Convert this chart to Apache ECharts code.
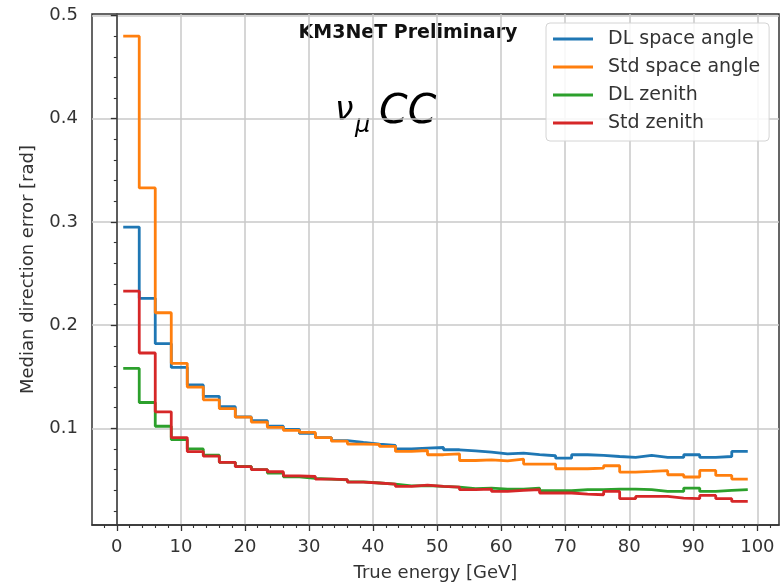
<!DOCTYPE html>
<html>
<head>
<meta charset="utf-8">
<title>Median direction error</title>
<script src="https://cdn.jsdelivr.net/npm/echarts@6/dist/echarts.min.js"></script>
<style>
  html, body { margin: 0; padding: 0; background: #fff; }
  #chart { width: 782px; height: 583px; }
</style>
</head>
<body>
<div id="chart"></div>
<script>
// bin edges of the energy histogram [GeV]
const binEdges = [1, 3.5, 6, 8.5, 11, 13.5, 16, 18.5, 21, 23.5, 26, 28.5, 31, 33.5, 36, 38.5,
  41, 43.5, 46, 48.5, 51, 53.5, 56, 58.5, 61, 63.5, 66, 68.5, 71, 73.5, 76, 78.5,
  81, 83.5, 86, 88.5, 91, 93.5, 96, 98.5]

// median direction error per bin [rad]
const dlSpace = [0.295, 0.226, 0.182, 0.159, 0.142, 0.131, 0.121, 0.111, 0.1075, 0.102,
  0.099, 0.095, 0.091, 0.088, 0.0863, 0.0847, 0.0834, 0.0801, 0.0808, 0.0814,
  0.0792, 0.0782, 0.077, 0.0753, 0.076, 0.0745, 0.0734, 0.0711, 0.0744, 0.0737,
  0.0727, 0.0718, 0.0737, 0.0718, 0.0718, 0.0744, 0.0718, 0.0727, 0.0776]
const stdSpace = [0.480, 0.333, 0.212, 0.163, 0.140, 0.1276, 0.119, 0.1108, 0.106, 0.101,
  0.098, 0.096, 0.091, 0.0876, 0.0847, 0.0845, 0.0824, 0.0776, 0.0785, 0.0744,
  0.0753, 0.0688, 0.0695, 0.0685, 0.0702, 0.0653, 0.0653, 0.0608, 0.0608, 0.0615,
  0.0637, 0.0576, 0.0582, 0.0589, 0.055, 0.0528, 0.0592, 0.0543, 0.0508]
const dlZenith = [0.158, 0.125, 0.102, 0.089, 0.080, 0.074, 0.067, 0.063, 0.060, 0.0566,
  0.053, 0.0514, 0.0508, 0.050, 0.048, 0.047, 0.046, 0.0443, 0.0445, 0.0437,
  0.043, 0.0415, 0.0421, 0.0411, 0.0411, 0.0421, 0.0395, 0.0395, 0.0405, 0.0405,
  0.0411, 0.0411, 0.0405, 0.0388, 0.0388, 0.0421, 0.0388, 0.0398, 0.0405]
const stdZenith = [0.233, 0.173, 0.116, 0.091, 0.0775, 0.073, 0.067, 0.0628, 0.060, 0.0579,
  0.054, 0.0533, 0.0508, 0.0502, 0.0479, 0.047, 0.046, 0.0437, 0.045, 0.0437,
  0.043, 0.0405, 0.0411, 0.0388, 0.0398, 0.0405, 0.0373, 0.0373, 0.0363, 0.0356,
  0.0388, 0.0318, 0.034, 0.034, 0.0324, 0.0318, 0.035, 0.0318, 0.0291]

const seriesNames = ['DL space angle', 'Std space angle', 'DL zenith', 'Std zenith']
const seriesColors = ['#1f77b4', '#ff7f0e', '#2ca02c', '#d62728']

const xMajorTicks = [0, 10, 20, 30, 40, 50, 60, 70, 80, 90, 100]
const xMinorTicks = [-2, 2, 4, 6, 8, 12, 14, 16, 18, 22, 24, 26, 28, 32, 34, 36, 38, 42, 44, 46, 48,
  52, 54, 56, 58, 62, 64, 66, 68, 72, 74, 76, 78, 82, 84, 86, 88, 92, 94, 96, 98, 102]
const yMajorTicks = [0.1, 0.2, 0.3, 0.4, 0.5]
const yMinorTicks = [0.02, 0.04, 0.06, 0.08, 0.12, 0.14, 0.16, 0.18, 0.22, 0.24, 0.26, 0.28,
  0.32, 0.34, 0.36, 0.38, 0.42, 0.44, 0.46, 0.48]

const FONT = 'DejaVu Sans'
const TEXT = '#333333'
const AXIS = '#333333'

// histogram values -> points for a step line (last edge repeats the last value)
function toSteps(values) {
  return binEdges.map((e, i) => [e, values[Math.min(i, values.length - 1)]])
}

const chart = echarts.init(document.getElementById('chart'), null, { renderer: 'canvas' })

const xRange = { min: -3.875, max: 103.375 }
const yRange = { min: 0.0063, max: 0.5015 }

chart.setOption({
  animation: false,
  backgroundColor: '#ffffff',
  textStyle: { fontFamily: FONT },
  grid: {
    left: 92,
    right: 3,
    top: 14,
    bottom: 58,
    outerBoundsMode: 'none',
    containLabel: false,
    show: true,
    borderColor: AXIS,
    borderWidth: 1.5,
    backgroundColor: 'transparent'
  },
  legend: {
    data: seriesNames,
    orient: 'vertical',
    left: 546,
    top: 23,
    icon: 'rect',
    itemWidth: 40,
    itemHeight: 3,
    itemGap: 8,
    padding: [6, 9, 8, 7],
    backgroundColor: 'rgba(255,255,255,0.85)',
    borderColor: '#d4d4d4',
    borderWidth: 1,
    borderRadius: 4,
    textStyle: {
      fontFamily: FONT,
      fontSize: 19,
      color: TEXT,
      lineHeight: 20,
      padding: [0, 0, 0, 10]
    }
  },
  xAxis: [
    {
      type: 'value',
      min: xRange.min,
      max: xRange.max,
      name: 'True energy [GeV]',
      nameLocation: 'middle',
      nameGap: 39,
      nameTextStyle: { fontFamily: FONT, fontSize: 18, color: TEXT },
      axisLine: { show: true, lineStyle: { color: AXIS, width: 1.5 } },
      axisTick: {
        show: true,
        customValues: xMajorTicks,
        length: 6,
        lineStyle: { color: AXIS, width: 1.3 }
      },
      axisLabel: {
        customValues: xMajorTicks,
        fontFamily: FONT,
        fontSize: 18,
        color: TEXT,
        margin: 13,
        formatter: v => String(v)
      },
      splitLine: { show: true, lineStyle: { color: '#c8c8c8', width: 1.5 } }
    },
    {
      // minor ticks only
      type: 'value',
      min: xRange.min,
      max: xRange.max,
      position: 'bottom',
      axisLine: { show: false },
      axisTick: {
        show: true,
        customValues: xMinorTicks,
        length: 3,
        lineStyle: { color: AXIS, width: 1.1 }
      },
      axisLabel: { show: false },
      splitLine: { show: false }
    }
  ],
  yAxis: [
    {
      type: 'value',
      min: yRange.min,
      max: yRange.max,
      name: 'Median direction error [rad]',
      nameLocation: 'middle',
      nameGap: 55,
      nameTextStyle: { fontFamily: FONT, fontSize: 18, color: TEXT },
      axisLine: { show: true, lineStyle: { color: AXIS, width: 1.5 } },
      axisTick: {
        show: true,
        customValues: yMajorTicks,
        length: 6,
        lineStyle: { color: AXIS, width: 1.3 }
      },
      axisLabel: {
        customValues: yMajorTicks,
        fontFamily: FONT,
        fontSize: 18,
        color: TEXT,
        margin: 14,
        formatter: v => v.toFixed(1)
      },
      splitLine: { show: true, lineStyle: { color: '#c8c8c8', width: 1.5 } }
    },
    {
      type: 'value',
      min: yRange.min,
      max: yRange.max,
      position: 'left',
      axisLine: { show: false },
      axisTick: {
        show: true,
        customValues: yMinorTicks,
        length: 3,
        lineStyle: { color: AXIS, width: 1.1 }
      },
      axisLabel: { show: false },
      splitLine: { show: false }
    }
  ],
  graphic: [
    {
      type: 'text',
      x: 408,
      y: 33,
      style: {
        text: 'KM3NeT Preliminary',
        fontFamily: FONT,
        fontWeight: 'bold',
        fontSize: 19,
        fill: '#111',
        textAlign: 'center',
        textVerticalAlign: 'middle'
      }
    },
    {
      type: 'text',
      x: 335,
      y: 111,
      style: {
        text: 'ν',
        fontFamily: FONT,
        fontStyle: 'italic',
        fontSize: 33,
        fill: '#000',
        textAlign: 'left',
        textVerticalAlign: 'middle'
      }
    },
    {
      type: 'text',
      x: 355,
      y: 126,
      style: {
        text: 'μ',
        fontFamily: FONT,
        fontStyle: 'italic',
        fontSize: 24,
        fill: '#000',
        textAlign: 'left',
        textVerticalAlign: 'middle'
      }
    },
    {
      type: 'text',
      x: 379,
      y: 112,
      style: {
        text: 'CC',
        fontFamily: FONT,
        fontStyle: 'italic',
        fontSize: 41,
        fill: '#000',
        textAlign: 'left',
        textVerticalAlign: 'middle'
      }
    }
  ],
  series: [dlSpace, stdSpace, dlZenith, stdZenith].map((vals, i) => ({
    name: seriesNames[i],
    type: 'line',
    step: 'end',
    xAxisIndex: 0,
    yAxisIndex: 0,
    showSymbol: false,
    symbol: 'none',
    color: seriesColors[i],
    lineStyle: { color: seriesColors[i], width: 2.8 },
    data: toSteps(vals),
    z: 2 + i
  }))
})
</script>
</body>
</html>
